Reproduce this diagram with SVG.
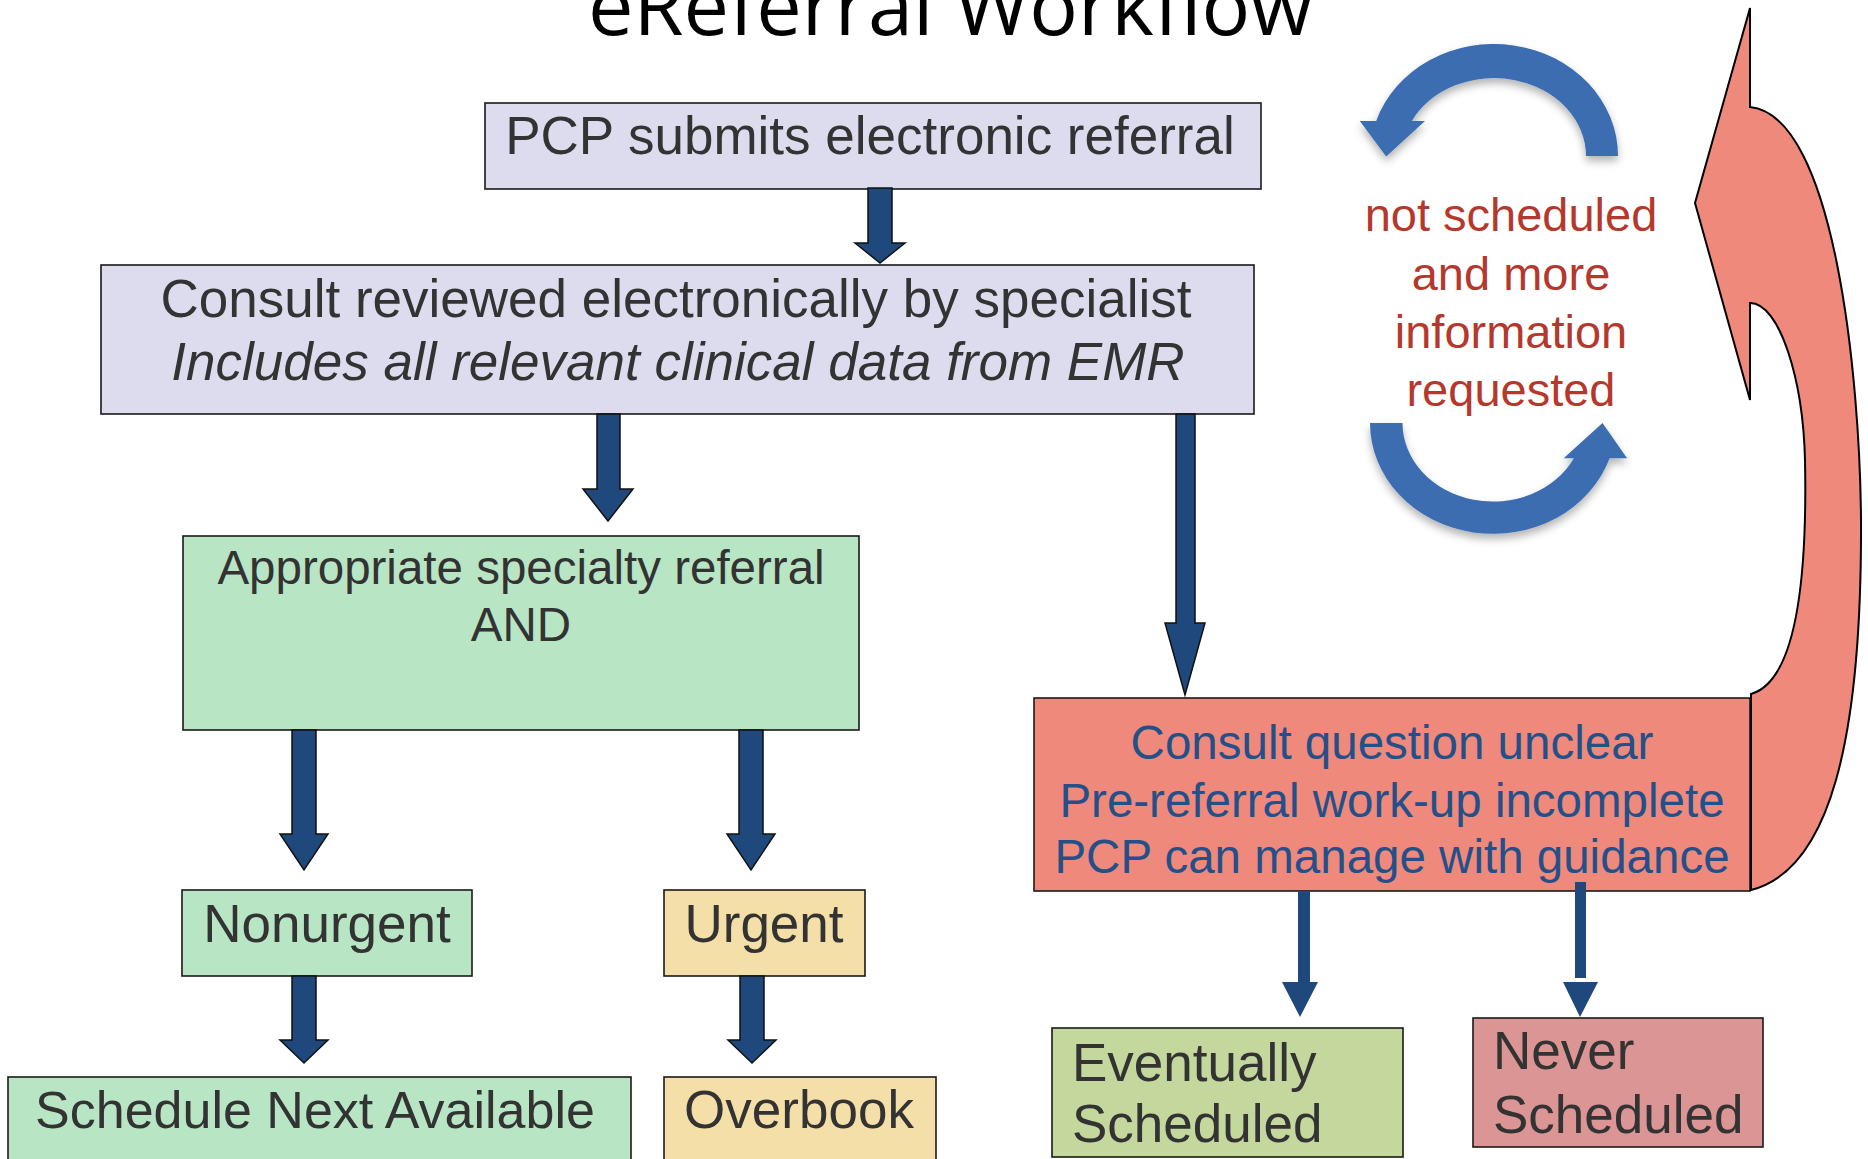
<svg xmlns="http://www.w3.org/2000/svg" width="1868" height="1159" viewBox="0 0 1868 1159">
  <style>
    .box { stroke: #1a1a1a; stroke-width: 1.6; }
    .lav { fill: #DCDCEE; }
    .grn { fill: #B8E5C3; }
    .yel { fill: #F3DFA7; }
    .sal { fill: #EE897B; }
    .olv { fill: #C4D79C; }
    .ros { fill: #DA9594; }
    .t { font-family: "Liberation Sans", Arial, sans-serif; fill: #333333; }
    .t53 { font-size: 53px; }
    .t47 { font-size: 47.5px; }
    .mid { text-anchor: middle; }
    .blue { fill: #24508A; }
    .red { fill: #B5382D; font-size: 47px; }
    .arw { fill: #1F497D; stroke: #111111; stroke-width: 1.5; stroke-linejoin: miter; }
    .arwf { fill: #1F497D; }
    .loop { fill: #3B6DB0; }
    .back { fill: #EE897B; stroke: #000000; stroke-width: 2; stroke-linejoin: miter; }
  </style>
  <defs>
    <filter id="soft" x="-20%" y="-20%" width="140%" height="150%">
      <feDropShadow dx="0" dy="5" stdDeviation="4" flood-color="#000000" flood-opacity="0.3"/>
    </filter>
  </defs>

  <rect width="1868" height="1159" fill="#ffffff"/>

  <!-- title, partly above the top edge -->
  <text id="title" x="588" y="35" font-family="'Open Sans', 'Liberation Sans', sans-serif" font-size="80" textLength="725" lengthAdjust="spacingAndGlyphs" fill="#000000">eReferral Workflow</text>

  <g id="pcp-submits">
    <rect class="box lav" x="485" y="103" width="776" height="86"/>
    <text class="t t53 mid" x="870" y="154">PCP submits electronic referral</text>
  </g>

  <g id="consult-reviewed">
    <rect class="box lav" x="101" y="265" width="1153" height="149"/>
    <text class="t t53 mid" x="676" y="317">Consult reviewed electronically by specialist</text>
    <text class="t t53 mid" x="678" y="380" font-style="italic">Includes all relevant clinical data from EMR</text>
  </g>

  <g id="appropriate">
    <rect class="box grn" x="183" y="536" width="676" height="194"/>
    <text class="t t47 mid" x="521" y="584">Appropriate specialty referral</text>
    <text class="t t47 mid" x="521" y="641">AND</text>
  </g>

  <g id="nonurgent">
    <rect class="box grn" x="182" y="890" width="290" height="86"/>
    <text class="t t53 mid" x="327" y="942">Nonurgent</text>
  </g>

  <g id="urgent">
    <rect class="box yel" x="664" y="890" width="201" height="86"/>
    <text class="t t53 mid" x="764" y="942">Urgent</text>
  </g>

  <g id="schedule-next">
    <rect class="box grn" x="8" y="1077" width="623" height="100"/>
    <text class="t mid" x="315" y="1128" font-size="52">Schedule Next Available</text>
  </g>

  <g id="overbook">
    <rect class="box yel" x="664" y="1077" width="272" height="100"/>
    <text class="t t53 mid" x="799" y="1128">Overbook</text>
  </g>

  <g id="loop-note">
    <text class="t red mid" x="1511" y="231">not scheduled</text>
    <text class="t red mid" x="1511" y="290">and more</text>
    <text class="t red mid" x="1511" y="348">information</text>
    <text class="t red mid" x="1511" y="406">requested</text>
  </g>

  <g id="consult-unclear">
    <rect class="box sal" x="1034" y="698" width="716" height="193"/>
    <text class="t t47 mid blue" x="1392" y="759">Consult question unclear</text>
    <text class="t t47 mid blue" x="1392" y="817">Pre-referral work-up incomplete</text>
    <text class="t t47 mid blue" x="1392" y="873">PCP can manage with guidance</text>
  </g>

  <g id="eventually">
    <rect class="box olv" x="1052" y="1028" width="351" height="129"/>
    <text class="t t53" x="1072" y="1081">Eventually</text>
    <text class="t t53" x="1072" y="1142">Scheduled</text>
  </g>

  <g id="never">
    <rect class="box ros" x="1473" y="1018" width="290" height="129"/>
    <text class="t t53" x="1493" y="1069">Never</text>
    <text class="t t53" x="1493" y="1133">Scheduled</text>
  </g>

  <g id="connectors">
    <!-- block arrows between boxes -->
    <polygon class="arw" points="868,188 892,188 892,243 905,243 880,263 855,243 868,243"/>
    <polygon class="arw" points="597,414 620,414 620,489 633,489 608,521 583,489 597,489"/>
    <polygon class="arw" points="1176,414 1195,414 1195,623 1205,623 1185,695 1165,623 1176,623"/>
    <polygon class="arw" points="292,730 316,730 316,834 328,834 304,870 280,834 292,834"/>
    <polygon class="arw" points="739,730 763,730 763,834 775,834 751,870 727,834 739,834"/>
    <polygon class="arw" points="292,976 316,976 316,1040 328,1040 304,1063 280,1040 292,1040"/>
    <polygon class="arw" points="740,976 764,976 764,1040 776,1040 752,1063 728,1040 740,1040"/>
    <polygon class="arwf" points="1298,891 1310,891 1310,982 1318,982 1300,1017 1282,982 1298,982"/>
    <rect class="arwf" x="1575" y="882" width="11" height="96"/>
    <polygon class="arwf" points="1563,982 1598,982 1580,1017"/>

    <!-- circular arrows round the loop-back note -->
    <g filter="url(#soft)">
      <path class="loop" d="M 1618,156 A 124 112 0 0 0 1376.2,121 L 1359.8,121 L 1386.2,156.5 L 1425,121 L 1411.8,121 A 92 78 0 0 1 1586,156 Z"/>
      <path class="loop" d="M 1370,423 A 123 111 0 0 0 1609.6,458.2 L 1627.1,458.2 L 1602.5,423 L 1563.7,458.2 L 1573.9,458.2 A 90.5 78.6 0 0 1 1402.5,423 Z"/>
    </g>

    <!-- curved return arrow from the unclear-consult box back up -->
    <path class="back" d="M 1750,8 L 1695,203 L 1750,400 L 1750,303 C 1780,303 1803,380 1805,460 C 1807,560 1800,680 1751,694 L 1751,890 C 1830,870 1862,740 1861,520 C 1860,380 1835,115 1750,107 Z"/>
  </g>
</svg>
